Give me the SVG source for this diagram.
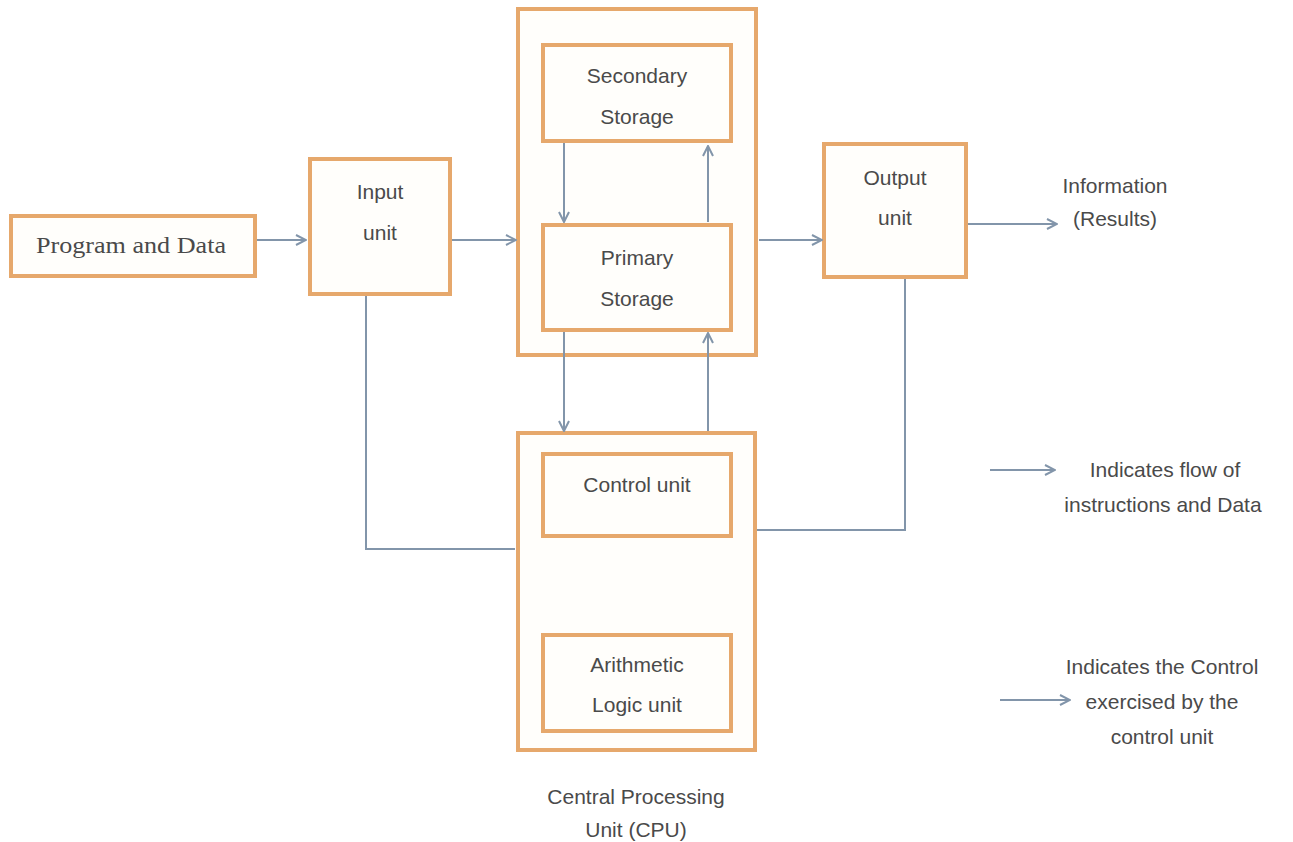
<svg xmlns="http://www.w3.org/2000/svg" width="1293" height="842" viewBox="0 0 1293 842">
<defs>
<style>
.box{fill:#fffefb;stroke:#e6a86c;stroke-width:4}
.t{font-family:"Liberation Sans",Arial,sans-serif;font-size:21px;fill:#4a4a4a;text-anchor:middle}
.s{font-family:"Liberation Serif","Times New Roman",serif;font-size:23px;fill:#4a4a4a;text-anchor:middle}
.c{fill:none;stroke:#8295aa;stroke-width:2}
.a{fill:none;stroke:#8295aa;stroke-width:2;marker-end:url(#arr)}
</style>
<marker id="arr" viewBox="0 0 12 12" refX="11" refY="6" markerWidth="12" markerHeight="12" markerUnits="userSpaceOnUse" orient="auto">
<path d="M1,1 L11,6 L1,11" fill="none" stroke="#8295aa" stroke-width="2"/>
</marker>
</defs>
<rect width="1293" height="842" fill="#ffffff"/>

<g id="program-data">
<rect class="box" x="11" y="216" width="244" height="60"/>
<text class="s" x="131" y="253" textLength="190" lengthAdjust="spacingAndGlyphs">Program and Data</text>
</g>

<g id="input-unit">
<rect class="box" x="310" y="159" width="140" height="135"/>
<text class="t" x="380" y="199">Input</text>
<text class="t" x="380" y="240">unit</text>
</g>

<g id="memory">
<rect class="box" x="518" y="9" width="238" height="346"/>
</g>

<g id="secondary-storage">
<rect class="box" x="543" y="45" width="188" height="96"/>
<text class="t" x="637" y="83">Secondary</text>
<text class="t" x="637" y="124">Storage</text>
</g>

<g id="primary-storage">
<rect class="box" x="543" y="225" width="188" height="105"/>
<text class="t" x="637" y="265">Primary</text>
<text class="t" x="637" y="306">Storage</text>
</g>

<g id="output-unit">
<rect class="box" x="824" y="144" width="142" height="133"/>
<text class="t" x="895" y="185">Output</text>
<text class="t" x="895" y="225">unit</text>
</g>

<g id="information">
<text class="t" x="1115" y="193">Information</text>
<text class="t" x="1115" y="226">(Results)</text>
</g>

<g id="cpu">
<rect class="box" x="518" y="433" width="237" height="317"/>
<text class="t" x="636" y="804">Central Processing</text>
<text class="t" x="636" y="837">Unit (CPU)</text>
</g>

<g id="control-unit">
<rect class="box" x="543" y="454" width="188" height="82"/>
<text class="t" x="637" y="492">Control unit</text>
</g>

<g id="alu">
<rect class="box" x="543" y="635" width="188" height="96"/>
<text class="t" x="637" y="672">Arithmetic</text>
<text class="t" x="637" y="712">Logic unit</text>
</g>

<g id="legend-flow">
<text class="t" x="1165" y="477">Indicates flow of</text>
<text class="t" x="1163" y="512">instructions and Data</text>
</g>

<g id="legend-control">
<text class="t" x="1162" y="674">Indicates the Control</text>
<text class="t" x="1162" y="709">exercised by the</text>
<text class="t" x="1162" y="744">control unit</text>
</g>

<g id="connectors">
<line class="a" x1="257" y1="240" x2="306" y2="240"/>
<line class="a" x1="452" y1="240" x2="516" y2="240"/>
<line class="a" x1="759" y1="240" x2="822" y2="240"/>
<line class="a" x1="968" y1="224" x2="1057" y2="224"/>
<line class="a" x1="564" y1="143" x2="564" y2="222"/>
<line class="a" x1="708" y1="222" x2="708" y2="146"/>
<line class="a" x1="564" y1="332" x2="564" y2="431"/>
<line class="a" x1="708" y1="431" x2="708" y2="333"/>
<polyline class="c" points="366,296 366,549 515,549"/>
<polyline class="c" points="905,279 905,530 757,530"/>
<line class="a" x1="990" y1="470" x2="1055" y2="470"/>
<line class="a" x1="1000" y1="700" x2="1070" y2="700"/>
</g>
</svg>
